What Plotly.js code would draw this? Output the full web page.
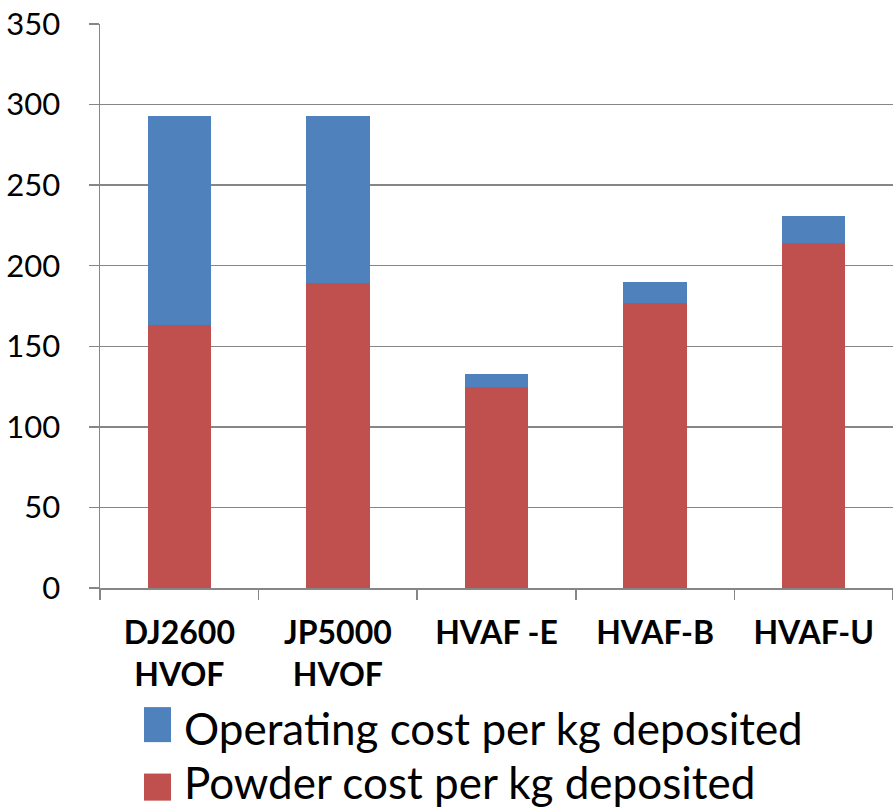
<!DOCTYPE html>
<html>
<head>
<meta charset="utf-8">
<script src="https://cdn.plot.ly/plotly-3.0.1.min.js"></script>
<style>html,body{margin:0;padding:0;background:#fff}#chart{width:893px;height:812px}</style>
</head>
<body>
<div id="chart"></div>
<script>
// ---- data ----
const categories = ["DJ2600<br>HVOF", "JP5000<br>HVOF", "HVAF -E", "HVAF-B", "HVAF-U"];
const powderCost = [163.2, 189.4, 125.0, 176.8, 214.1];
const operatingCost = [129.5, 103.8, 7.9, 13.2, 16.8];
const seriesNames = ["Operating cost per kg deposited", "Powder cost per kg deposited"];
const yTicks = [0, 50, 100, 150, 200, 250, 300, 350];

// ---- style ----
const blue = "#4F81BD";
const red = "#C0504D";
const gray = "#868686";
const font = "Lato, 'Open Sans', sans-serif";

const traces = [
  {type: "bar", name: seriesNames[1], x: categories, y: powderCost,
   marker: {color: red}, showlegend: false, hoverinfo: "y"},
  {type: "bar", name: seriesNames[0], x: categories, y: operatingCost,
   marker: {color: blue}, showlegend: false, hoverinfo: "y"}
];

// custom legend (large squares as in the reference)
const legendItems = [
  {name: seriesNames[0], color: blue, y0: -0.2112, y1: -0.2733, ty: -0.249},
  {name: seriesNames[1], color: red, y0: -0.3290, y1: -0.3770, ty: -0.3445}
];
const shapes = legendItems.map(it => ({
  type: "rect", xref: "paper", yref: "paper",
  x0: 0.0555, x1: 0.0895, y0: it.y0, y1: it.y1,
  fillcolor: it.color, line: {width: 0}
}));
const annotations = legendItems.map(it => ({
  xref: "paper", yref: "paper", x: 0.1035, y: it.ty,
  xanchor: "left", yanchor: "middle", showarrow: false,
  text: it.name, font: {family: font, size: 44, color: "#000"}
}));

const layout = {
  width: 893, height: 812,
  margin: {l: 100, r: 0, t: 24, b: 224, pad: 0},
  paper_bgcolor: "#fff", plot_bgcolor: "#fff",
  barmode: "stack", bargap: 0.6,
  showlegend: false,
  font: {family: font, color: "#000"},
  xaxis: {
    type: "category", tickson: "boundaries",
    ticks: "outside", ticklen: 10, tickwidth: 1.5, tickcolor: gray,
    showline: true, linecolor: gray, linewidth: 1.5,
    showgrid: false, zeroline: false,
    tickfont: {family: font, size: 32, color: "#000", weight: "bold"},
    ticklabelstandoff: 16
  },
  yaxis: {
    range: [0, 350], tickvals: yTicks, ticktext: yTicks.map(String),
    ticks: "outside", ticklen: 10, tickwidth: 1.5, tickcolor: gray,
    showline: true, linecolor: gray, linewidth: 1.5,
    showgrid: true, gridcolor: gray, gridwidth: 1.5,
    zeroline: false,
    tickfont: {family: font, size: 31, color: "#000"},
    ticklabelstandoff: 22
  },
  shapes: shapes,
  annotations: annotations
};

Plotly.newPlot("chart", traces, layout, {displayModeBar: false, staticPlot: true});
</script>
</body>
</html>
